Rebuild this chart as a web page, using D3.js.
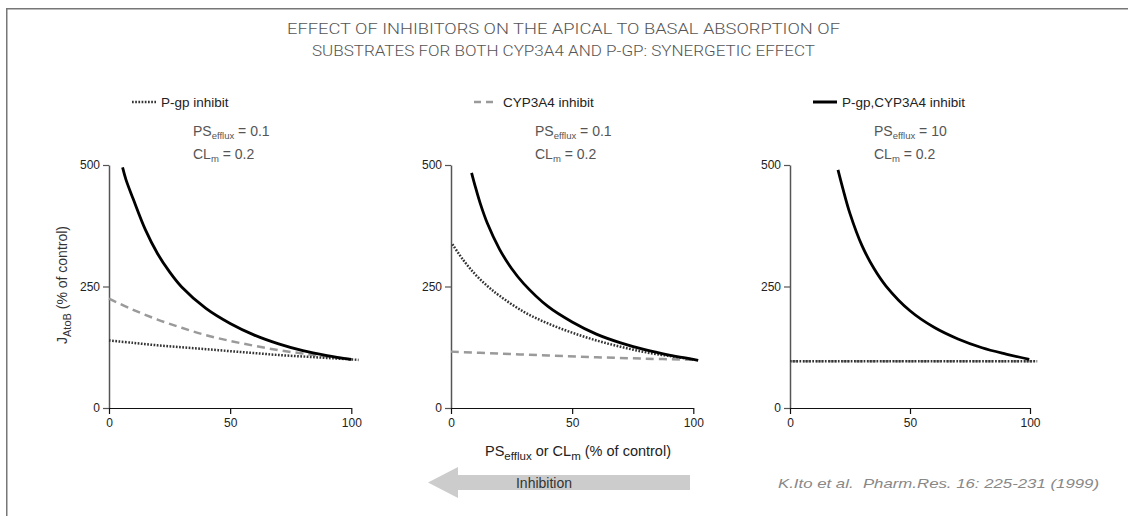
<!DOCTYPE html>
<html lang="en">
<head>
<meta charset="utf-8">
<title>Synergetic effect</title>
<script src="https://d3js.org/d3.v7.min.js"></script>
<style>
  body { margin: 0; background: #fff; }
  svg { display: block; font-family: "Liberation Sans", Arial, sans-serif; }
</style>
</head>
<body>
<script>
// ---- data ----
var titleLines = [
    "EFFECT OF INHIBITORS ON THE APICAL TO BASAL ABSORPTION OF",
    "SUBSTRATES FOR BOTH CYP3A4 AND P-GP: SYNERGETIC EFFECT"
];
var legendNames = ["P-gp inhibit", "CYP3A4 inhibit", "P-gp,CYP3A4 inhibit"];
var legendStyles = ["dot", "dash", "solid"];
var psEffluxValues = ["0.1", "0.1", "10"];
var clmValues = ["0.2", "0.2", "0.2"];
var xTicks = [0, 50, 100];
var yTicks = [0, 250, 500];

// panel 1 (PS_efflux = 0.1)
var p1SolidX = [5.6, 7, 10, 15, 20, 25, 30, 40, 50, 60, 70, 80, 90, 100];
var p1SolidY = [495, 470, 430, 367, 318, 280, 249, 205, 174, 150, 132, 118, 108, 100];
var p1DashX = [0, 10, 20, 30, 40, 50, 60, 70, 80, 90, 100];
var p1DashY = [225, 202, 182, 165, 150, 138, 128, 119, 112, 106, 100];
var p1DotX = [0, 10, 20, 30, 40, 50, 60, 70, 80, 90, 100, 103];
var p1DotY = [139, 134, 129, 125, 121, 117, 113, 109, 106, 103, 100, 99];

// panel 2 (PS_efflux = 0.1)
var p2SolidX = [8.5, 10, 12, 15, 20, 25, 30, 40, 50, 60, 70, 80, 90, 100, 102];
var p2SolidY = [484, 456, 422, 380, 327, 287, 256, 209, 177, 152, 134, 120, 109, 100, 98];
var p2DashX = [0, 20, 40, 60, 80, 100, 102];
var p2DashY = [116, 112, 108, 104.5, 101.5, 99, 98];
var p2DotX = [0.6, 5, 10, 15, 20, 30, 40, 50, 60, 70, 80, 90, 100];
var p2DotY = [337, 305, 275, 251, 231, 198, 174, 155, 139, 126, 115, 107, 100];

// panel 3 (PS_efflux = 10)
var p3SolidX = [20, 22, 25, 30, 35, 40, 50, 60, 70, 80, 90, 99.7];
var p3SolidY = [490, 452, 400, 334, 287, 251, 200, 166, 142, 124, 111, 100];
var p3DashX = [0, 50, 103];
var p3DashY = [96, 96, 96];
var p3DotX = [0, 50, 103];
var p3DotY = [96, 96, 96];

// ---- layout ----
var width = 1128, height = 516;
var panelLeft = [109, 451, 790];
var panelWidth = [242.3, 242.3, 240];
var plotTop = 165, plotBottom = 408;

var lineStyle = {
    solid: { stroke: "#000", width: 2.8, dash: null },
    dash:  { stroke: "#9a9a9a", width: 2.5, dash: "8,5" },
    dot:   { stroke: "#333", width: 2.5, dash: "1.7,1.5" }
};

function zip(xs, ys) {
    return xs.map(function (x, i) { return [x, ys[i]]; });
}

var panels = [
    { dash: zip(p1DashX, p1DashY), dot: zip(p1DotX, p1DotY), solid: zip(p1SolidX, p1SolidY) },
    { dash: zip(p2DashX, p2DashY), dot: zip(p2DotX, p2DotY), solid: zip(p2SolidX, p2SolidY) },
    { dash: zip(p3DashX, p3DashY), dot: zip(p3DotX, p3DotY), solid: zip(p3SolidX, p3SolidY) }
];

var svg = d3.select("body").append("svg")
    .attr("width", width)
    .attr("height", height);

// frame (only top and left edges fall inside the picture)
svg.append("rect")
    .attr("x", 6.75).attr("y", 8.75)
    .attr("width", 1300).attr("height", 700)
    .attr("fill", "none")
    .attr("stroke", "#777")
    .attr("stroke-width", 1.5);

// title
svg.selectAll("text.title").data(titleLines).enter().append("text")
    .attr("class", "title")
    .attr("x", 563.5)
    .attr("y", function (d, i) { return 34 + i * 22; })
    .attr("text-anchor", "middle")
    .attr("textLength", function (d, i) { return i === 0 ? 553 : 503; })
    .attr("lengthAdjust", "spacingAndGlyphs")
    .style("font-family", "Roboto, 'Liberation Sans', sans-serif")
    .style("font-weight", 300)
    .style("font-size", "15px")
    .style("fill", "#555")
    .text(function (d) { return d; });

panels.forEach(function (p, i) {
    var x = d3.scaleLinear().domain([0, 100]).range([0, panelWidth[i]]);
    var y = d3.scaleLinear().domain([0, 500]).range([plotBottom - plotTop, 0]);

    var g = svg.append("g")
        .attr("transform", "translate(" + panelLeft[i] + "," + plotTop + ")");

    // axes
    var yAxis = g.append("g")
        .call(d3.axisLeft(y).tickValues(yTicks).tickSize(6).tickSizeOuter(0).tickPadding(3));
    yAxis.select(".domain").attr("stroke", "#555").attr("stroke-width", 1.5);
    yAxis.selectAll(".tick line").attr("stroke", "#555").attr("stroke-width", 1.2);
    yAxis.selectAll("text").style("font-size", "12px").style("fill", "#222");

    var xAxis = g.append("g")
        .attr("transform", "translate(0," + (plotBottom - plotTop) + ")")
        .call(d3.axisBottom(x).tickValues(xTicks).tickSize(6).tickSizeOuter(0).tickPadding(4));
    xAxis.select(".domain").attr("stroke", "#111").attr("stroke-width", 1.2);
    xAxis.selectAll(".tick line").attr("stroke", "#111").attr("stroke-width", 1.2);
    xAxis.selectAll("text").style("font-size", "12px").style("fill", "#222");

    var line = d3.line()
        .x(function (d) { return x(d[0]); })
        .y(function (d) { return y(d[1]); })
        .curve(d3.curveCatmullRom.alpha(0.5));

    ["dash", "dot", "solid"].forEach(function (k) {
        var s = lineStyle[k];
        g.append("path")
            .datum(p[k])
            .attr("d", line)
            .attr("fill", "none")
            .attr("stroke", s.stroke)
            .attr("stroke-width", s.width)
            .attr("stroke-dasharray", s.dash);
    });

    // legend
    var lx = panelLeft[i];
    var ls = lineStyle[legendStyles[i]];
    svg.append("line")
        .attr("x1", lx + 23).attr("x2", lx + 47)
        .attr("y1", 102).attr("y2", 102)
        .attr("stroke", ls.stroke)
        .attr("stroke-width", legendStyles[i] === "solid" ? 3 : ls.width)
        .attr("stroke-dasharray", legendStyles[i] === "dash" ? "7,5" : ls.dash);
    svg.append("text")
        .attr("x", lx + 52).attr("y", 107)
        .style("font-size", "13.5px")
        .style("fill", "#222")
        .text(legendNames[i]);

    // parameter notes
    var ps = svg.append("text")
        .attr("x", lx + 84).attr("y", 136)
        .style("font-size", "14px")
        .style("fill", "#555");
    ps.append("tspan").text("PS");
    ps.append("tspan").attr("dy", 3).style("font-size", "9.5px").text("efflux");
    ps.append("tspan").attr("dy", -3).text(" = " + psEffluxValues[i]);

    var cl = svg.append("text")
        .attr("x", lx + 84).attr("y", 159)
        .style("font-size", "14px")
        .style("fill", "#555");
    cl.append("tspan").text("CL");
    cl.append("tspan").attr("dy", 3).style("font-size", "9.5px").text("m");
    cl.append("tspan").attr("dy", -3).text(" = " + clmValues[i]);
});

// y axis title
var yt = svg.append("text")
    .attr("transform", "translate(67,285) rotate(-90)")
    .attr("text-anchor", "middle")
    .style("font-size", "14px")
    .style("fill", "#333");
yt.append("tspan").text("J");
yt.append("tspan").attr("dy", 4).style("font-size", "11px").text("AtoB");
yt.append("tspan").attr("dy", -4).text(" (% of control)");

// x axis title
var xt = svg.append("text")
    .attr("x", 578).attr("y", 456)
    .attr("text-anchor", "middle")
    .style("font-size", "14.5px")
    .style("fill", "#222");
xt.append("tspan").text("PS");
xt.append("tspan").attr("dy", 4).style("font-size", "11.5px").text("efflux");
xt.append("tspan").attr("dy", -4).text(" or CL");
xt.append("tspan").attr("dy", 4).style("font-size", "11.5px").text("m");
xt.append("tspan").attr("dy", -4).text(" (% of control)");

// inhibition arrow
svg.append("path")
    .attr("d", "M428,482.5 L458,467 L458,475 L690,475 L690,490 L458,490 L458,498 Z")
    .attr("fill", "#cccccc");
svg.append("text")
    .attr("x", 544).attr("y", 488)
    .attr("text-anchor", "middle")
    .style("font-size", "14px")
    .style("fill", "#333")
    .text("Inhibition");

// citation
svg.append("text")
    .attr("x", 778).attr("y", 488)
    .attr("textLength", 321)
    .attr("lengthAdjust", "spacingAndGlyphs")
    .style("font-size", "13px")
    .style("font-style", "italic")
    .style("fill", "#888")
    .attr("xml:space", "preserve")
    .text("K.Ito et al.  Pharm.Res. 16: 225-231 (1999)");
</script>
</body>
</html>
